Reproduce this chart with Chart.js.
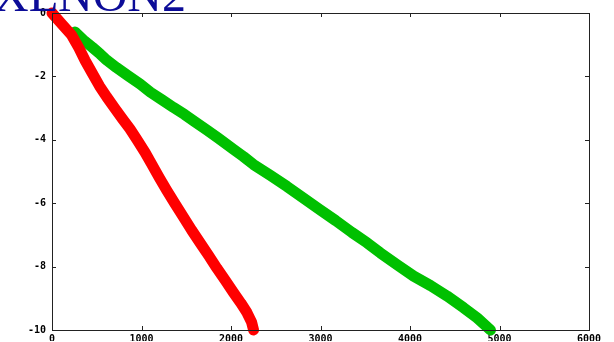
<!DOCTYPE html>
<html>
<head>
<meta charset="utf-8">
<title>XENON2</title>
<script src="https://cdn.jsdelivr.net/npm/chart.js@4.4.1/dist/chart.umd.min.js"></script>
<style>
  html,body{margin:0;padding:0;background:#fff;}
  #wrap{position:relative;width:614px;height:342px;}
</style>
</head>
<body>
<div id="wrap"><canvas id="chart" width="614" height="342"></canvas></div>
<script>
// run 1 (red) and run 2 (green), x / y pairs
const redX = [0, 110, 220, 300, 370, 450, 530, 612, 700, 790, 870, 950, 1040, 1120, 1200, 1283, 1370, 1460, 1560, 1655, 1750, 1842, 1940, 2028, 2110, 2178, 2230, 2252];
const redY = [0, -0.35, -0.7, -1.1, -1.5, -1.9, -2.3, -2.65, -3.0, -3.35, -3.65, -4.0, -4.4, -4.8, -5.2, -5.6, -6.0, -6.4, -6.85, -7.25, -7.65, -8.05, -8.45, -8.82, -9.15, -9.45, -9.75, -10];
const greenX = [257, 350, 450, 540, 612, 720, 850, 984, 1100, 1230, 1357, 1480, 1600, 1730, 1860, 2028, 2140, 2252, 2440, 2625, 2800, 2990, 3170, 3350, 3520, 3669, 3860, 4041, 4230, 4415, 4600, 4750, 4899];
const greenY = [-0.6, -0.85, -1.08, -1.3, -1.49, -1.72, -1.98, -2.24, -2.5, -2.74, -2.98, -3.2, -3.44, -3.69, -3.95, -4.3, -4.53, -4.78, -5.12, -5.47, -5.82, -6.2, -6.55, -6.92, -7.25, -7.57, -7.95, -8.3, -8.6, -8.93, -9.3, -9.62, -10];
const xTicks = [0, 1000, 2000, 3000, 4000, 5000, 6000];
const yTicks = [0, -2, -4, -6, -8, -10];
const titleText = "XENON2";

function pairs(xs, ys){ return xs.map((x,i)=>({x, y: ys[i]})); }

// frame + inward ticks, gnuplot style
const framePlugin = {
  id: "frame",
  afterDatasetsDraw(chart){
    const {ctx, chartArea:a, scales} = chart;
    ctx.save();
    ctx.strokeStyle = "#222";
    ctx.lineWidth = 1;
    ctx.strokeRect(a.left + 0.5, a.top + 0.5, a.right - a.left, a.bottom - a.top);
    ctx.beginPath();
    xTicks.forEach(v=>{
      const px = Math.round(scales.x.getPixelForValue(v)) + 0.5;
      ctx.moveTo(px, a.bottom); ctx.lineTo(px, a.bottom - 4);
      ctx.moveTo(px, a.top); ctx.lineTo(px, a.top + 4);
    });
    yTicks.forEach(v=>{
      const py = Math.round(scales.y.getPixelForValue(v)) + 0.5;
      ctx.moveTo(a.left, py); ctx.lineTo(a.left + 4, py);
      ctx.moveTo(a.right, py); ctx.lineTo(a.right - 4, py);
    });
    ctx.stroke();
    ctx.restore();
  },
  afterDraw(chart){
    const ctx = chart.ctx;
    ctx.save();
    ctx.fillStyle = "#0c0c98";
    ctx.font = "48px 'Liberation Serif', 'DejaVu Serif', serif";
    ctx.textBaseline = "alphabetic";
    ctx.fillText(titleText, -6, 11);
    ctx.restore();
  }
};

const tickFont = {family: "'DejaVu Sans Mono', monospace", size: 10, weight: "bold"};

new Chart(document.getElementById("chart"), {
  type: "scatter",
  data: {
    datasets: [
      {data: pairs(redX, redY), borderColor: "#ff0000", backgroundColor: "#ff0000"},
      {data: pairs(greenX, greenY), borderColor: "#00c000", backgroundColor: "#00c000"}
    ].map(d=>Object.assign(d, {showLine: true, pointRadius: 0, borderWidth: 11, borderCapStyle: "round", borderJoinStyle: "round", clip: false}))
  },
  options: {
    responsive: false,
    animation: false,
    layout: {padding: {top: 13, right: 25, left: 0, bottom: 0}},
    plugins: {legend: {display: false}, tooltip: {enabled: false}, title: {display: false}},
    scales: {
      x: {
        type: "linear", min: 0, max: 6000,
        afterBuildTicks: s=>{ s.ticks = xTicks.map(v=>({value: v})); },
        afterFit: s=>{ s.height = 11; },
        grid: {display: false, drawTicks: false},
        border: {display: false},
        ticks: {color: "#000", font: tickFont, padding: 3, maxRotation: 0, callback: v=>String(v)}
      },
      y: {
        type: "linear", min: -10, max: 0,
        afterBuildTicks: s=>{ s.ticks = yTicks.map(v=>({value: v})); },
        afterFit: s=>{ s.width = 52; },
        grid: {display: false, drawTicks: false},
        border: {display: false},
        ticks: {color: "#000", font: tickFont, padding: 6, callback: v=>String(v)}
      }
    }
  },
  plugins: [framePlugin]
});
</script>
</body>
</html>
